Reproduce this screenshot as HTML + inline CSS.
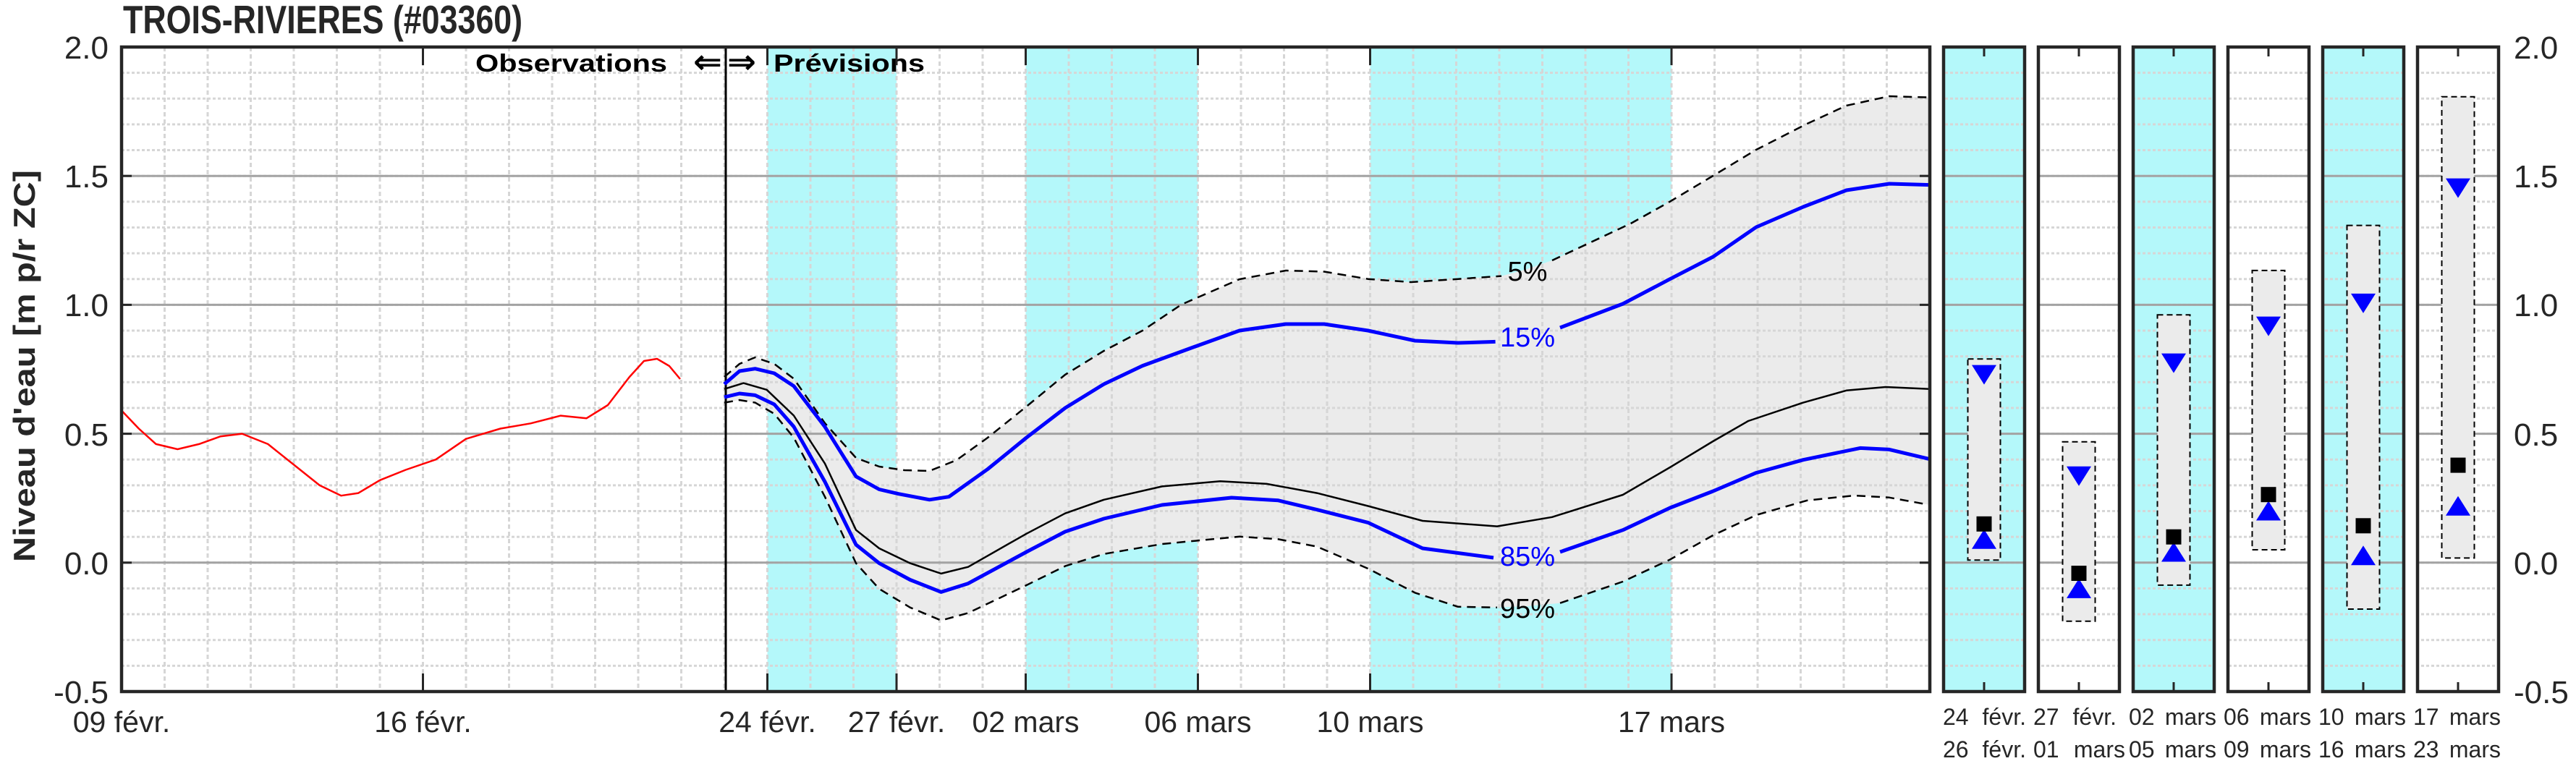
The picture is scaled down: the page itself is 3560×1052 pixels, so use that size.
<!DOCTYPE html>
<html><head><meta charset="utf-8"><style>html,body{margin:0;padding:0;background:#fff}svg{display:block}</style></head>
<body>
<svg width="3560" height="1052" viewBox="0 0 3560 1052" xmlns="http://www.w3.org/2000/svg" font-family="'Liberation Sans', Arial, sans-serif">
<defs>
<pattern id="vg" x="168" y="65" width="59.5" height="10" patternUnits="userSpaceOnUse"><rect x="-1.5" y="0" width="3" height="6" fill="#d6d6d6"/><rect x="58" y="0" width="3" height="6" fill="#d6d6d6"/></pattern>
<pattern id="hg" x="168" y="63.5" width="7" height="35.64" patternUnits="userSpaceOnUse"><rect x="0" y="0" width="4" height="3" fill="#d6d6d6"/></pattern>
<clipPath id="mc"><rect x="168" y="65" width="2499" height="891"/></clipPath>
</defs>

<text x="170" y="46" font-size="55" font-weight="bold" fill="#262626" textLength="552" lengthAdjust="spacingAndGlyphs">TROIS-RIVIERES (#03360)</text>
<text transform="translate(48,506) rotate(-90)" text-anchor="middle" font-size="42" font-weight="bold" fill="#262626" textLength="542" lengthAdjust="spacingAndGlyphs">Niveau d'eau [m p/r ZC]</text>

<g clip-path="url(#mc)">
<rect x="168" y="65" width="2499" height="891" fill="#fff"/>
<rect x="1060.5" y="65" width="178.5" height="891" fill="#b4f8fa"/>
<rect x="1417.5" y="65" width="238" height="891" fill="#b4f8fa"/>
<rect x="1893.5" y="65" width="416.5" height="891" fill="#b4f8fa"/>
<polygon fill="#ebebeb" points="1001,521 1022,503 1043.6,494 1070,503 1097,523.5 1140,585 1183,633 1215,645 1250,650 1284.6,651 1322,636 1365,605 1418.5,562 1472,518 1525.6,485 1579,457 1632.7,421 1713,386 1777,374 1830,375.5 1890.5,385.7 1950,390 2015,385.7 2075,381.6 2110,372 2145,360 2199,334.7 2253.6,309 2308,278.6 2367.4,243 2427,207 2497.5,171 2551.7,146 2611,133 2667,134.7 2667,698 2611,687.8 2562.6,685 2497.5,691.8 2427,712 2367.4,740 2308,773.5 2242.8,804 2156,833.7 2110,838 2069,839.8 2015,838.8 1955.5,819.4 1890.5,786 1820,755.6 1766.6,745.4 1713,741.8 1606,752 1525.6,765.8 1472,782.6 1418.5,809 1338,847.4 1300.7,857.7 1257.8,839.8 1215,814 1183,778.6 1140,686.7 1097,605 1070,572 1043.6,556.6 1022,553 1001,556.6"/>
<rect x="168" y="65" width="2499" height="891" fill="url(#vg)"/>
<rect x="168" y="65" width="2499" height="891" fill="url(#hg)"/>
<g stroke="#a3a3a3" stroke-width="3">
<line x1="168" y1="243.2" x2="2667" y2="243.2"/><line x1="168" y1="421.4" x2="2667" y2="421.4"/><line x1="168" y1="599.6" x2="2667" y2="599.6"/><line x1="168" y1="777.8" x2="2667" y2="777.8"/>
</g>
<line x1="1003" y1="65" x2="1003" y2="956" stroke="#000" stroke-width="3"/>
<polyline fill="none" stroke="#ff0000" stroke-width="2.5" stroke-linejoin="round" points="168,567.5 191.8,592.5 215.6,613.9 245.4,621 275.1,613.9 304.9,603.2 334.6,599.6 370.3,613.9 406,642.4 441.7,670.9 471.5,685.2 495.3,681.6 525,663.8 560.7,649.5 602.4,635.2 644,606.7 691.6,592.5 733.3,585.3 774.9,574.6 810.6,578.2 840,560 870,521 890,499 908,496 925,506 940,524"/>
<g fill="none" stroke="#000" stroke-width="2.5" stroke-dasharray="12 8" stroke-linejoin="round">
<polyline points="1001,521 1022,503 1043.6,494 1070,503 1097,523.5 1140,585 1183,633 1215,645 1250,650 1284.6,651 1322,636 1365,605 1418.5,562 1472,518 1525.6,485 1579,457 1632.7,421 1713,386 1777,374 1830,375.5 1890.5,385.7 1950,390 2015,385.7 2075,381.6"/>
<polyline points="2145,360 2199,334.7 2253.6,309 2308,278.6 2367.4,243 2427,207 2497.5,171 2551.7,146 2611,133 2667,134.7"/>
<polyline points="1001,556.6 1022,553 1043.6,556.6 1070,572 1097,605 1140,686.7 1183,778.6 1215,814 1257.8,839.8 1300.7,857.7 1338,847.4 1418.5,809 1472,782.6 1525.6,765.8 1606,752 1713,741.8 1766.6,745.4 1820,755.6 1890.5,786 1955.5,819.4 2015,838.8 2069,839.8"/>
<polyline points="2156,833.7 2242.8,804 2308,773.5 2367.4,740 2427,712 2497.5,691.8 2562.6,685 2611,687.8 2667,698"/>
</g>
<polyline fill="none" stroke="#000" stroke-width="2.5" stroke-linejoin="round" points="1001,537.8 1027.5,529.6 1059.6,538.8 1097,574.5 1140,640.8 1183,732.7 1215,758 1257.8,778.6 1300.7,792.9 1338,783.7 1418.5,737.8 1472,709.7 1525.6,690.8 1606,672.4 1686.3,665.3 1750.6,668.9 1820,681.6 1890.5,699.5 1966,720 2069,727.6 2145,714.8 2242.8,684 2308,646 2367.4,610 2416,582 2492,556.6 2551.7,539.8 2606,535 2667,537.8"/>
<g fill="none" stroke="#0000ff" stroke-width="5" stroke-linejoin="round">
<polyline points="1001,531 1022,513 1043.6,509.7 1070,516 1097,533.7 1140,590 1183,658.7 1215,676.5 1241.7,682.7 1284.6,690.8 1311.4,686.7 1365,648.5 1418.5,605 1472,564 1525.6,531 1579,505.6 1649,480 1713,457 1777,448 1830,448 1890.5,457 1955.5,471 2015,474 2066.6,472.4"/>
<polyline points="2156,453 2242.8,420 2308,385.7 2367.4,355 2427,314 2492,286 2551.7,263 2611,254 2667,255.6"/>
<polyline points="1001,549 1022,544 1043.6,546.4 1070,559 1097,589.8 1140,666 1183,753 1215,778.6 1257.8,801.5 1300.7,818.4 1338,806.6 1418.5,763 1472,735 1525.6,717 1606,698 1702,688 1766.6,691.8 1820,704.6 1890.5,722.4 1966,758 2064,771"/>
<polyline points="2156,763 2242.8,732.7 2308,702 2367.4,679 2427,653.6 2492,635.7 2570.7,619.4 2611,621.4 2667,634.7"/>
</g>
<g font-size="38" text-anchor="middle">
<text x="2111" y="388" fill="#000">5%</text>
<text x="2111" y="479" fill="#0000ff">15%</text>
<text x="2111" y="782" fill="#0000ff">85%</text>
<text x="2111" y="854" fill="#000">95%</text>
</g>
<g font-size="34" font-weight="bold" fill="#000">
<text x="657" y="99" textLength="265" lengthAdjust="spacingAndGlyphs">Observations</text>
<text x="958" y="101" font-family="'DejaVu Sans', sans-serif" font-size="46" textLength="40" lengthAdjust="spacingAndGlyphs">⇐</text>
<text x="1005" y="101" font-family="'DejaVu Sans', sans-serif" font-size="46" textLength="40" lengthAdjust="spacingAndGlyphs">⇒</text>
<text x="1069" y="99" textLength="209" lengthAdjust="spacingAndGlyphs">Prévisions</text>
</g>
</g>
<g stroke="#262626" stroke-width="3">
<line x1="168" y1="243.2" x2="182" y2="243.2"/><line x1="168" y1="421.4" x2="182" y2="421.4"/><line x1="168" y1="599.6" x2="182" y2="599.6"/><line x1="168" y1="777.8" x2="182" y2="777.8"/>
<line x1="2653" y1="243.2" x2="2667" y2="243.2"/><line x1="2653" y1="421.4" x2="2667" y2="421.4"/><line x1="2653" y1="599.6" x2="2667" y2="599.6"/><line x1="2653" y1="777.8" x2="2667" y2="777.8"/>
<line x1="584.5" y1="65" x2="584.5" y2="90"/><line x1="584.5" y1="931" x2="584.5" y2="956"/>
<line x1="1060.5" y1="65" x2="1060.5" y2="90"/><line x1="1060.5" y1="931" x2="1060.5" y2="956"/>
<line x1="1239" y1="65" x2="1239" y2="90"/><line x1="1239" y1="931" x2="1239" y2="956"/>
<line x1="1417.5" y1="65" x2="1417.5" y2="90"/><line x1="1417.5" y1="931" x2="1417.5" y2="956"/>
<line x1="1655.5" y1="65" x2="1655.5" y2="90"/><line x1="1655.5" y1="931" x2="1655.5" y2="956"/>
<line x1="1893.5" y1="65" x2="1893.5" y2="90"/><line x1="1893.5" y1="931" x2="1893.5" y2="956"/>
<line x1="2310" y1="65" x2="2310" y2="90"/><line x1="2310" y1="931" x2="2310" y2="956"/>
</g>
<rect x="168" y="65" width="2499" height="891" fill="none" stroke="#262626" stroke-width="4.5"/>

<g font-size="44" fill="#262626" text-anchor="end">
<text x="150" y="81">2.0</text><text x="150" y="259">1.5</text><text x="150" y="437">1.0</text><text x="150" y="616">0.5</text><text x="150" y="794">0.0</text><text x="150" y="972">-0.5</text>
</g>
<g font-size="44" fill="#262626">
<text x="3474" y="81">2.0</text><text x="3474" y="259">1.5</text><text x="3474" y="437">1.0</text><text x="3474" y="616">0.5</text><text x="3474" y="794">0.0</text><text x="3474" y="972">-0.5</text>
</g>
<g font-size="41" fill="#262626" text-anchor="middle">
<text x="168" y="1012">09 févr.</text><text x="584.5" y="1012">16 févr.</text><text x="1060.5" y="1012">24 févr.</text><text x="1239" y="1012">27 févr.</text><text x="1417.5" y="1012">02 mars</text><text x="1655.5" y="1012">06 mars</text><text x="1893.5" y="1012">10 mars</text><text x="2310" y="1012">17 mars</text>
</g>

<g>
<rect x="2686" y="65" width="112" height="891" fill="#b4f8fa"/>
<rect x="2948" y="65" width="112" height="891" fill="#b4f8fa"/>
<rect x="3210" y="65" width="112" height="891" fill="#b4f8fa"/>
<g fill="url(#hg)">
<rect x="2686" y="65" width="112" height="891"/><rect x="2817" y="65" width="112" height="891"/><rect x="2948" y="65" width="112" height="891"/><rect x="3079" y="65" width="112" height="891"/><rect x="3210" y="65" width="112" height="891"/><rect x="3341" y="65" width="112" height="891"/>
</g>
<g stroke="#a3a3a3" stroke-width="3">
<line x1="2686" y1="243.2" x2="3453" y2="243.2"/><line x1="2686" y1="421.4" x2="3453" y2="421.4"/><line x1="2686" y1="599.6" x2="3453" y2="599.6"/><line x1="2686" y1="777.8" x2="3453" y2="777.8"/>
</g>
<g fill="#fff">
<rect x="2798" y="60" width="19" height="900"/><rect x="2929" y="60" width="19" height="900"/><rect x="3060" y="60" width="19" height="900"/><rect x="3191" y="60" width="19" height="900"/><rect x="3322" y="60" width="19" height="900"/>
</g>
<g fill="#ebebeb" stroke="#000" stroke-width="2" stroke-dasharray="8 5">
<rect x="2719.5" y="496.2" width="45" height="278"/>
<rect x="2850.5" y="610.7" width="45" height="248"/>
<rect x="2981.5" y="435.2" width="45" height="373.7"/>
<rect x="3112.5" y="373.9" width="45" height="386.1"/>
<rect x="3243.5" y="311.6" width="45" height="530.4"/>
<rect x="3374.5" y="133.8" width="45" height="637.6"/>
</g>
<g fill="#0000ff">
<polygon points="2725,504.6 2759,504.6 2742,531.6"/><polygon points="2725,758.7 2759,758.7 2742,731.7"/>
<polygon points="2856,644.8 2890,644.8 2873,671.8"/><polygon points="2856,826.9 2890,826.9 2873,799.9"/>
<polygon points="2987,488.6 3021,488.6 3004,515.6"/><polygon points="2987,776.5 3021,776.5 3004,749.5"/>
<polygon points="3118,437.6 3152,437.6 3135,464.6"/><polygon points="3118,719.5 3152,719.5 3135,692.5"/>
<polygon points="3249,405.9 3283,405.9 3266,432.9"/><polygon points="3249,781.2 3283,781.2 3266,754.2"/>
<polygon points="3380,246.6 3414,246.6 3397,273.6"/><polygon points="3380,712.8 3414,712.8 3397,685.8"/>
</g>
<g fill="#000">
<rect x="2731.5" y="713.8" width="21" height="21"/>
<rect x="2862.5" y="782" width="21" height="21"/>
<rect x="2993.5" y="731.7" width="21" height="21"/>
<rect x="3124.5" y="673.2" width="21" height="21"/>
<rect x="3255.5" y="716.3" width="21" height="21"/>
<rect x="3386.5" y="632.6" width="21" height="21"/>
</g>
<g stroke="#262626" stroke-width="3">
<line x1="2742" y1="65" x2="2742" y2="78"/><line x1="2742" y1="943" x2="2742" y2="956"/>
<line x1="2873" y1="65" x2="2873" y2="78"/><line x1="2873" y1="943" x2="2873" y2="956"/>
<line x1="3004" y1="65" x2="3004" y2="78"/><line x1="3004" y1="943" x2="3004" y2="956"/>
<line x1="3135" y1="65" x2="3135" y2="78"/><line x1="3135" y1="943" x2="3135" y2="956"/>
<line x1="3266" y1="65" x2="3266" y2="78"/><line x1="3266" y1="943" x2="3266" y2="956"/>
<line x1="3397" y1="65" x2="3397" y2="78"/><line x1="3397" y1="943" x2="3397" y2="956"/>
</g>
<g fill="none" stroke="#262626" stroke-width="4.5">
<rect x="2686" y="65" width="112" height="891"/><rect x="2817" y="65" width="112" height="891"/><rect x="2948" y="65" width="112" height="891"/><rect x="3079" y="65" width="112" height="891"/><rect x="3210" y="65" width="112" height="891"/><rect x="3341" y="65" width="112" height="891"/>
</g>
<g font-size="32" fill="#262626">
<text x="2685" y="1002">24</text><text x="2800" y="1002" text-anchor="end">févr.</text>
<text x="2685" y="1047">26</text><text x="2800" y="1047" text-anchor="end">févr.</text>
<text x="2810" y="1002">27</text><text x="2925" y="1002" text-anchor="end">févr.</text>
<text x="2810" y="1047">01</text><text x="2937" y="1047" text-anchor="end">mars</text>
<text x="2942" y="1002">02</text><text x="3063" y="1002" text-anchor="end">mars</text>
<text x="2942" y="1047">05</text><text x="3063" y="1047" text-anchor="end">mars</text>
<text x="3073" y="1002">06</text><text x="3194" y="1002" text-anchor="end">mars</text>
<text x="3073" y="1047">09</text><text x="3194" y="1047" text-anchor="end">mars</text>
<text x="3204" y="1002">10</text><text x="3325" y="1002" text-anchor="end">mars</text>
<text x="3204" y="1047">16</text><text x="3325" y="1047" text-anchor="end">mars</text>
<text x="3335" y="1002">17</text><text x="3456" y="1002" text-anchor="end">mars</text>
<text x="3335" y="1047">23</text><text x="3456" y="1047" text-anchor="end">mars</text>
</g>
</g>
</svg>
</body></html>
